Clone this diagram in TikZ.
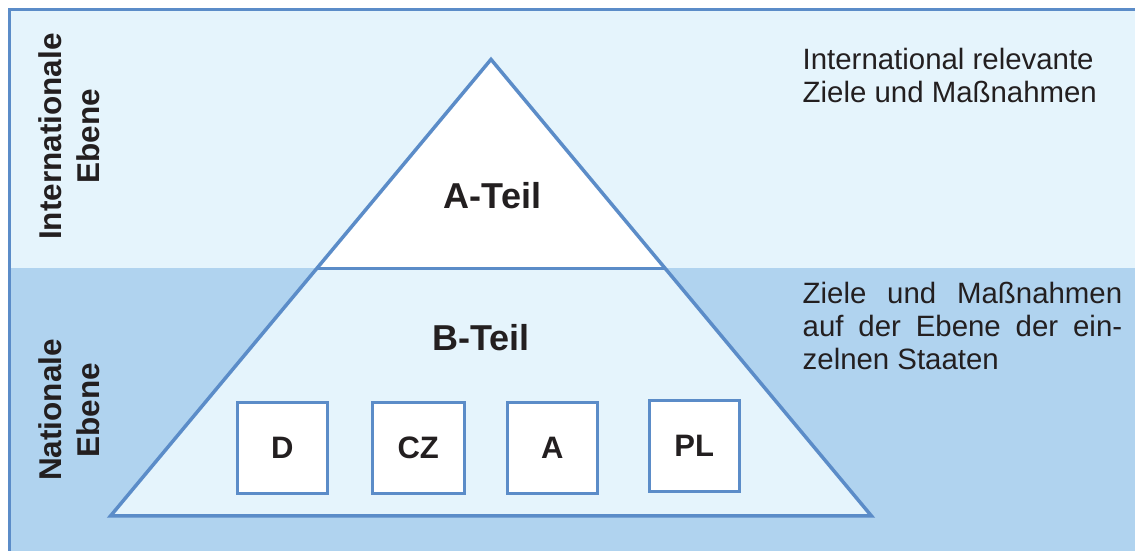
\documentclass[tikz,border=0pt]{standalone}
\usepackage{fontspec}
\setmainfont{Liberation Sans}
\usetikzlibrary{calc}
\definecolor{hell}{RGB}{229, 244, 252}
\definecolor{mittel}{RGB}{176, 211, 239}
\definecolor{linie}{RGB}{91, 140, 200}
\definecolor{schrift}{RGB}{35, 31, 32}

\tikzset{
	kasten/.style={draw=linie, fill=white, line width=3pt},
	land/.style={font=\bfseries\fontsize{31}{37}\selectfont},
	teil/.style={font=\bfseries\fontsize{36}{43}\selectfont},
	ebene/.style={rotate=90, align=center, inner sep=0pt, font=\bfseries\fontsize{31.5}{38}\selectfont},
	beschr/.style={inner sep=0pt, font=\fontsize{29.4}{33}\selectfont}
}

\begin{document}
\begin{tikzpicture}[x=1pt, y=1pt, text=schrift, line join=miter]
			\useasboundingbox (0, 0) rectangle (1135, 551);
			% Hintergrund
			\fill [mittel] (9.5, 0) rectangle (1135, 282.5);
			\fill [hell] (9.5, 282.5) rectangle (1135, 541.5);
			\draw [linie, line width=3pt] (9.5, 0) -- (9.5, 541.5) -- (1135, 541.5);
			% Pyramide
			\coordinate (spitze) at (491, 491.6);
			\coordinate (links) at (110.5, 35);
			\coordinate (rechts) at (871.5, 35);
			\coordinate (tl) at ($(links)!0.5416!(spitze)$);
			\coordinate (tr) at ($(rechts)!0.5416!(spitze)$);
			\fill [hell] (links) -- (spitze) -- (rechts) -- cycle;
			\fill [white] (tl) -- (spitze) -- (tr) -- cycle;
			\draw [linie, line width=3.5pt] (links) -- (spitze) -- (rechts) -- cycle;
			\draw [linie, line width=3.5pt] (tl) -- (tr);
			\node [teil] (ateil) at (492.5, 355) {A-Teil};
			\node [teil] (bteil) at (481, 213) {B-Teil};
			% Staaten
			\filldraw [kasten] (237, 57.5) rectangle (327.5, 148) node[midway, land] (d) {D};
			\filldraw [kasten] (372.5, 57.5) rectangle (464, 148) node[midway, land] (cz) {CZ};
			\filldraw [kasten] (507, 57.5) rectangle (597.5, 148) node[midway, land] (a) {A};
			\filldraw [kasten] (649, 59.8) rectangle (739.5, 150.2) node[midway, land] (pl) {PL};
			% Ebenen
			\node [ebene] (intern) at (69.5, 414.5) {Internationale\\Ebene};
			\node [ebene] (nation) at (69.5, 141) {Nationale\\Ebene};
			% Beschreibungen
			\node [beschr, align=left, anchor=north west] (obenrechts) at (802.5, 502.5) {International relevante\\Ziele und Maßnahmen};
			\node [beschr, text width=319.5pt, align=justify, anchor=north west] (untenrechts) at (802.5, 268.5) {Ziele und Maßnahmen\linebreak auf der Ebene der ein-\linebreak zelnen Staaten};
		\end{tikzpicture}
\end{document}
